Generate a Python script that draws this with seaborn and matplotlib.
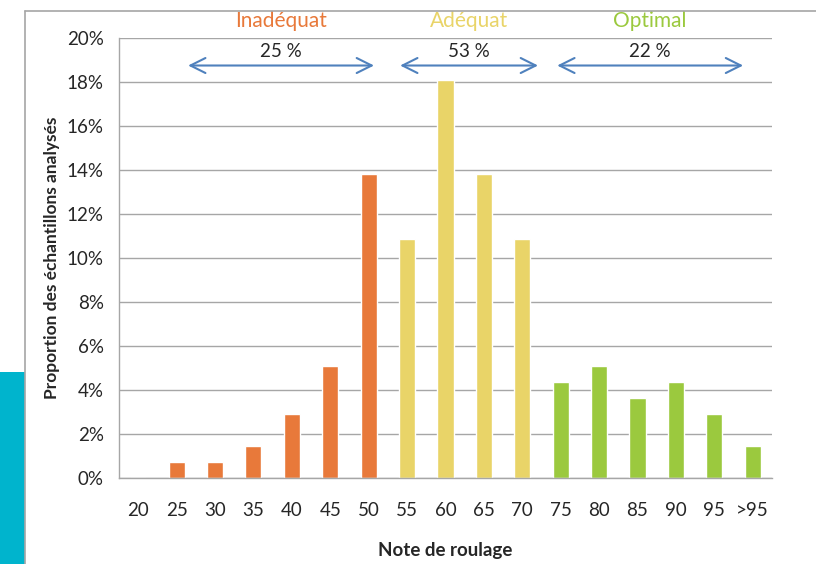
import matplotlib
matplotlib.use("Agg")
import matplotlib.pyplot as plt
from matplotlib.lines import Line2D
from matplotlib.patches import Rectangle
from matplotlib.ticker import FixedLocator
import seaborn as sns
import pandas as pd

# Rolling score classes and share of analysed samples (%)
categories = ["20", "25", "30", "35", "40", "45", "50", "55", "60",
              "65", "70", "75", "80", "85", "90", "95", ">95"]
values = [0.0, 0.73, 0.73, 1.45, 2.9, 5.07, 13.8, 10.87, 18.1,
          13.8, 10.87, 4.35, 5.07, 3.62, 4.35, 2.9, 1.45]
groups = (["Inadéquat"] * 7 + ["Adéquat"] * 4 + ["Optimal"] * 6)

group_names = ["Inadéquat", "Adéquat", "Optimal"]
group_shares = ["25 %", "53 %", "22 %"]
# span of each class bracket, in category units
group_spans = [(1.3, 6.14), (6.82, 10.41), (10.91, 15.75)]
group_colors = {"Inadéquat": "#E8793A", "Adéquat": "#E9D468", "Optimal": "#9BC93E"}

y_ticks = [0, 2, 4, 6, 8, 10, 12, 14, 16, 18, 20]

df = pd.DataFrame({"note": categories, "part": values, "classe": groups})

sns.set_theme(style="white")
plt.rcParams["font.family"] = ["Lato", "DejaVu Sans"]

fig = plt.figure(figsize=(8.16, 5.64), dpi=100)
ax = fig.add_axes([0.1458, 0.1525, 0.8002, 0.7801])

sns.barplot(data=df, x="note", y="part", hue="classe", palette=group_colors,
            dodge=False, width=0.42, legend=False, ax=ax, saturation=1)

grid_c = "#A6A6A6"
text_c = "#262626"
ax.set_ylim(0, 20)
ax.set_xlim(-0.5, len(categories) - 0.5)
ax.set_yticks(y_ticks)
ax.set_yticklabels([f"{t}%" for t in y_ticks])
ax.yaxis.grid(True, color=grid_c, lw=1)
ax.set_axisbelow(True)

# Tick marks sit on category boundaries along the x axis
ax.xaxis.set_minor_locator(FixedLocator([i - 0.5 for i in range(len(categories) + 1)]))
ax.tick_params(axis="x", which="major", length=0, pad=17, labelsize=13.5, labelcolor=text_c)
ax.tick_params(axis="x", which="minor", length=5, width=1, color=grid_c, direction="out")
ax.tick_params(axis="y", which="major", length=5, width=1, color=grid_c, pad=6,
               labelsize=13.5, labelcolor=text_c)

for s in ["top", "right"]:
    ax.spines[s].set_visible(False)
for s in ["left", "bottom"]:
    ax.spines[s].set_color(grid_c)
    ax.spines[s].set_linewidth(1)

ax.set_xlabel("Note de roulage", fontsize=13.5, fontweight="bold", color=text_c, labelpad=17)
ax.set_ylabel("Proportion des échantillons analysés", fontsize=12.5, fontweight="bold",
              color=text_c, labelpad=5)

# Class brackets above the bars
for name, share, (x0, x1) in zip(group_names, group_shares, group_spans):
    xc = (x0 + x1) / 2
    ax.annotate("", xy=(x0, 18.75), xytext=(x1, 18.75), annotation_clip=False,
                arrowprops=dict(arrowstyle="<->,head_length=0.9,head_width=0.45",
                                color="#4F81BD", lw=1.5, shrinkA=0, shrinkB=0))
    ax.text(xc, 19.0, share, ha="center", va="bottom", fontsize=13.5, color=text_c)
    ax.text(xc, 20.3, name, ha="center", va="bottom", fontsize=15,
            color=group_colors[name])

# Page frame and side band
fig.add_artist(Line2D([0.0306, 1.0], [0.9805, 0.9805], color="#A6A6A6", lw=1.2))
fig.add_artist(Line2D([0.0306, 0.0306], [0.0, 0.9805], color="#A6A6A6", lw=1.2))
fig.add_artist(Rectangle((0, 0), 0.0306, 0.34, transform=fig.transFigure,
                         facecolor="#00B4CD", edgecolor="none"))

fig.savefig("out.png", dpi=100)
